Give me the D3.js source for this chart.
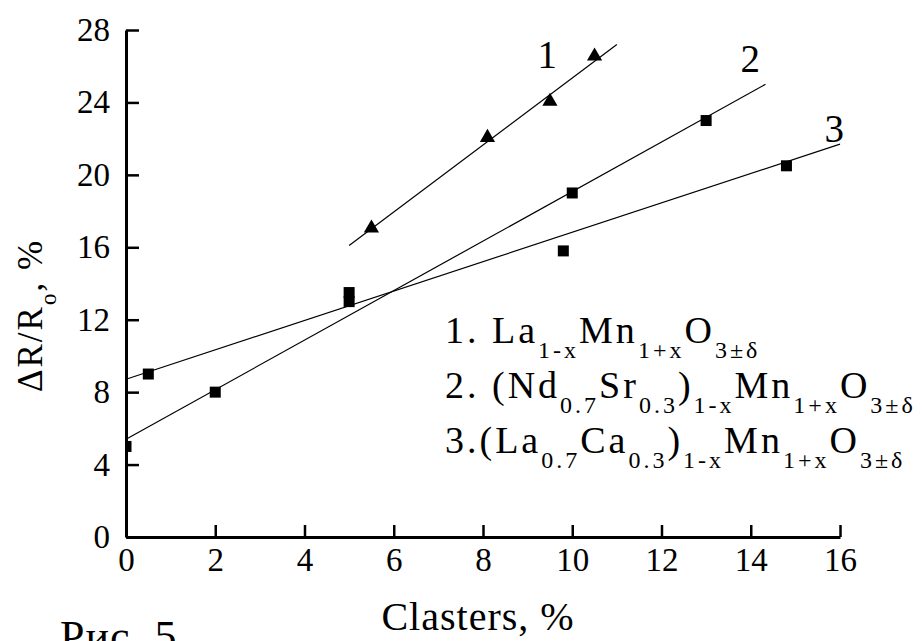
<!DOCTYPE html>
<html lang="ru">
<head>
    <meta charset="UTF-8">
    <title>Рис. 5</title>
    <script src="https://cdn.jsdelivr.net/npm/d3@7/dist/d3.min.js"></script>
    <style>
        body { margin: 0; background: #fff; }
        svg { display: block; }
        text { font-family: "Liberation Serif", "Times New Roman", serif; fill: #000; }
        .axis path, .axis line { stroke: #000; }
        .axis path { stroke-width: 3px; }
        .axis line { stroke-width: 2.5px; }
        .axis text { font-size: 33px; }
        .fit { stroke: #000; stroke-width: 1.2px; fill: none; }
    </style>
</head>
<body>
<script>
    /******* DATA *******/
    const xTicks = [0, 2, 4, 6, 8, 10, 12, 14, 16];
    const yTicks = [0, 4, 8, 12, 16, 20, 24, 28];

    const series1 = [[5.5, 17.0], [8.1, 22.0], [9.5, 24.0], [10.5, 26.5]];           // triangles
    const series2 = [[0, 5.0], [2, 8.0], [5, 13.0], [10, 19.0], [13, 23.0]];          // squares
    const series3 = [[0.5, 9.0], [5, 13.5], [9.8, 15.8], [14.8, 20.5]];              // squares

    // straight fit lines: [x start, y start, x end, y end]
    const fit1 = [5.0, 16.1, 11.0, 27.2];
    const fit2 = [0, 5.4, 14.33, 25.0];
    const fit3 = [0, 8.71, 16, 21.7];

    const curveLabels = ["1", "2", "3"];
    const curveLabelAt = [[9.22, 25.9], [13.77, 25.7], [15.65, 21.8]];

    // legend rows: [text, subscript?]
    const legendRows = [
        [["1. La", 0], ["1-x", 1], ["Mn", 0], ["1+x", 1], ["O", 0], ["3±δ", 1]],
        [["2. (Nd", 0], ["0.7", 1], ["Sr", 0], ["0.3", 1], [")", 0], ["1-x", 1], ["Mn", 0], ["1+x", 1], ["O", 0], ["3±δ", 1]],
        [["3.(La", 0], ["0.7", 1], ["Ca", 0], ["0.3", 1], [")", 0], ["1-x", 1], ["Mn", 0], ["1+x", 1], ["O", 0], ["3±δ", 1]]
    ];

    /******* SVG *******/
    const width = 922, height = 641;
    const svg = d3.select("body").append("svg")
        .attr("width", width)
        .attr("height", height);

    const xScale = d3.scaleLinear().domain([0, 16]).range([126, 840]);
    const yScale = d3.scaleLinear().domain([0, 28]).range([537, 30]);

    // clip so the point at x = 0 is cut by the axis, like the original
    svg.append("clipPath").attr("id", "plot")
        .append("rect")
        .attr("x", xScale(0)).attr("y", 0)
        .attr("width", xScale(16) - xScale(0) + 20)
        .attr("height", yScale(0));

    /******* FIT LINES *******/
    const lineGen = d3.line().x(d => xScale(d[0])).y(d => yScale(d[1]));
    svg.append("g").selectAll("path")
        .data([fit1, fit2, fit3])
        .enter()
        .append("path")
        .attr("class", "fit")
        .attr("d", f => lineGen([[f[0], f[1]], [f[2], f[3]]]));

    /******* MARKERS *******/
    const marks = svg.append("g").attr("clip-path", "url(#plot)");
    const sq = 11;
    marks.selectAll("rect")
        .data(series2.concat(series3))
        .enter()
        .append("rect")
        .attr("x", d => xScale(d[0]) - sq / 2)
        .attr("y", d => yScale(d[1]) - sq / 2)
        .attr("width", sq)
        .attr("height", sq)
        .attr("fill", "#000");

    const tri = d3.symbol().type(d3.symbolTriangle).size(100);
    marks.selectAll(".tri")
        .data(series1)
        .enter()
        .append("path")
        .attr("class", "tri")
        .attr("d", tri)
        .attr("transform", d => `translate(${xScale(d[0])},${yScale(d[1]) - 1})`)
        .attr("fill", "#000");

    /******* AXES *******/
    const xAxis = d3.axisBottom(xScale)
        .tickValues(xTicks)
        .tickSizeInner(-12)
        .tickSizeOuter(0)
        .tickPadding(11);
    svg.append("g")
        .attr("class", "axis")
        .attr("transform", `translate(0,${yScale(0)})`)
        .call(xAxis);

    const yAxis = d3.axisLeft(yScale)
        .tickValues(yTicks)
        .tickSizeInner(-13)
        .tickSizeOuter(0)
        .tickPadding(16);
    svg.append("g")
        .attr("class", "axis")
        .attr("transform", `translate(${xScale(0)},0)`)
        .call(yAxis);

    /******* LABELS *******/
    svg.append("g").selectAll("text")
        .data(curveLabels)
        .enter()
        .append("text")
        .attr("x", (d, i) => xScale(curveLabelAt[i][0]))
        .attr("y", (d, i) => yScale(curveLabelAt[i][1]))
        .style("font-size", "39px")
        .text(d => d);

    // Legend
    const legend = svg.append("g");
    legendRows.forEach((row, i) => {
        const t = legend.append("text")
            .attr("x", 445)
            .attr("y", 343 + i * 55)
            .style("font-size", "38px")
            .style("letter-spacing", "3px");
        let sub = 0;
        row.forEach(p => {
            const dy = p[1] === sub ? 0 : (p[1] ? 15 : -15);
            sub = p[1];
            t.append("tspan")
                .attr("dy", dy)
                .style("font-size", p[1] ? "24px" : "38px")
                .text(p[0]);
        });
    });

    // Y axis title
    const yt = svg.append("text")
        .attr("transform", "translate(42,392) rotate(-90)")
        .style("font-size", "35px")
        .style("letter-spacing", "2px");
    yt.append("tspan").text("ΔR/R");
    yt.append("tspan").attr("dy", 14).style("font-size", "23px").text("o");
    yt.append("tspan").attr("dy", -14).text(", %");

    // X axis title
    svg.append("text")
        .attr("x", 478)
        .attr("y", 630)
        .attr("text-anchor", "middle")
        .style("font-size", "40px")
        .style("letter-spacing", "1px")
        .text("Clasters, %");

    // Figure caption
    svg.append("text")
        .attr("x", 60)
        .attr("y", 651)
        .style("font-size", "44px")
        .style("letter-spacing", "1px")
        .text("Рис. 5");
</script>
</body>
</html>
